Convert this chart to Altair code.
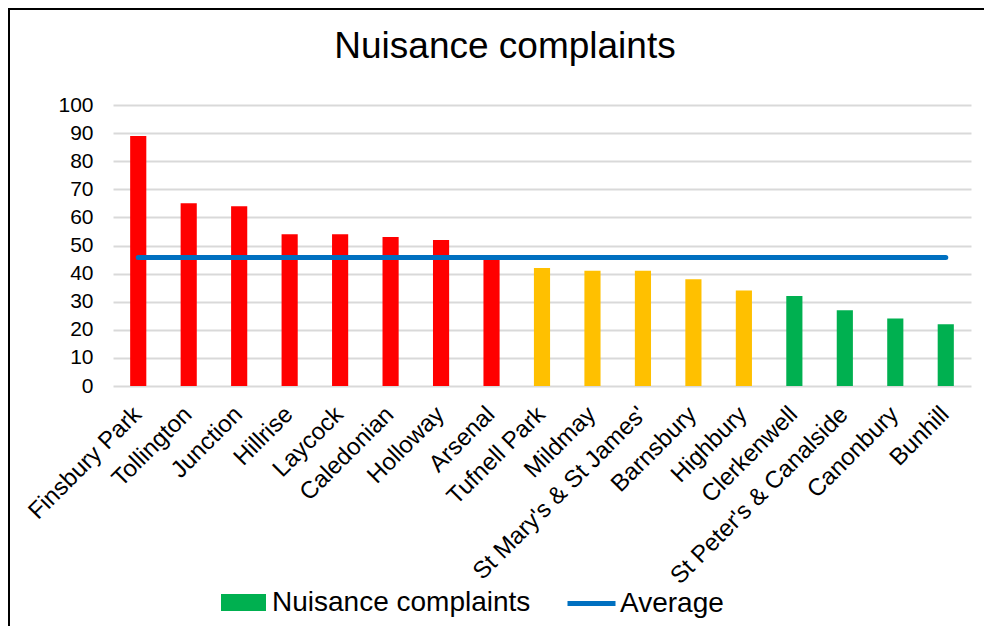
import altair as alt
import pandas as pd

FONT = "Liberation Sans"

wards = ["Finsbury Park", "Tollington", "Junction", "Hillrise", "Laycock",
         "Caledonian", "Holloway", "Arsenal", "Tufnell Park", "Mildmay",
         "St Mary's & St James'", "Barnsbury", "Highbury", "Clerkenwell",
         "St Peter's & Canalside", "Canonbury", "Bunhill"]
complaints = [89, 65, 64, 54, 54, 53, 52, 45, 42, 41, 41, 38, 34, 32, 27, 24, 22]
bands = ["red", "red", "red", "red", "red", "red", "red", "red",
         "amber", "amber", "amber", "amber", "amber",
         "green", "green", "green", "green"]
average = 45.7
y_ticks = [0, 10, 20, 30, 40, 50, 60, 70, 80, 90, 100]
band_domain = ["red", "amber", "green"]
band_colors = ["#FF0000", "#FFC000", "#00B050"]
avg_color = "#0070C0"

df = pd.DataFrame({"ward": wards, "complaints": complaints, "band": bands})
avg_df = pd.DataFrame({"start": [wards[0]], "end": [wards[-1]],
                       "avg": [average], "series": ["Average"]})

x_scale = alt.Scale(domain=wards, paddingInner=0.68, paddingOuter=0.34)
y_scale = alt.Scale(domain=[0, 100])

x_axis = alt.Axis(labelAngle=-45, labelAlign="right", labelBaseline="top",
                  labelFontSize=24, labelPadding=16, labelOffset=-9, domain=False,
                  ticks=False, labelLimit=400, labelColor="black", labelFont=FONT,
                  labelOverlap=False)
y_axis = alt.Axis(values=y_ticks, tickCount=11, domain=False, ticks=False,
                  labelFontSize=21, labelPadding=20, gridColor="#D9D9D9", gridWidth=2,
                  labelColor="black", labelFont=FONT, labelOverlap=False)

bars = alt.Chart(df).mark_bar().encode(
    x=alt.X("ward:N", title=None, scale=x_scale, axis=x_axis),
    y=alt.Y("complaints:Q", title=None, scale=y_scale, axis=y_axis),
    fill=alt.Fill("band:N",
                  scale=alt.Scale(domain=band_domain, range=band_colors),
                  legend=alt.Legend(values=["green"], labelExpr="'Nuisance complaints'",
                                    title=None, orient="none", legendX=108, legendY=475,
                                    symbolType="M-1,-0.38H1V0.38H-1Z", symbolSize=2025,
                                    symbolStrokeWidth=0, labelFontSize=28, labelFont=FONT,
                                    labelColor="black", padding=0, labelOffset=6,
                                    labelLimit=500)),
)

rule = alt.Chart(avg_df).mark_rule(strokeWidth=5, strokeCap="round").encode(
    x=alt.X("start:N", title=None, scale=x_scale, axis=x_axis),
    x2="end:N",
    y=alt.Y("avg:Q", title=None, scale=y_scale, axis=y_axis),
    stroke=alt.Stroke("series:N",
                      scale=alt.Scale(domain=["Average"], range=[avg_color]),
                      legend=alt.Legend(title=None, orient="none", legendX=452, legendY=472,
                                        symbolType="stroke", symbolSize=2304,
                                        symbolStrokeWidth=5, labelFontSize=28,
                                        labelFont=FONT, labelColor="black", padding=0,
                                        labelOffset=2, labelLimit=500)),
)

frame = alt.Chart(alt.Data(values=[{"f": 1}])).mark_rect(
    fill="transparent", stroke="black", strokeWidth=2
).encode(x=alt.value(-104), x2=alt.value(950), y=alt.value(-96), y2=alt.value(600))

chart = alt.layer(frame, bars, rule).properties(
    width=858,
    height=281,
    autosize=alt.AutoSizeParams(type="none"),
    padding={"left": 105, "top": 97, "right": 13, "bottom": 240},
    title=alt.TitleParams("Nuisance complaints", fontSize=37, font=FONT,
                          fontWeight="normal", color="black", anchor="middle",
                          frame="group", dx=-37, offset=-58),
).configure_view(stroke="transparent")

chart.save("out.html", embed_options={"renderer": "svg", "actions": False})
